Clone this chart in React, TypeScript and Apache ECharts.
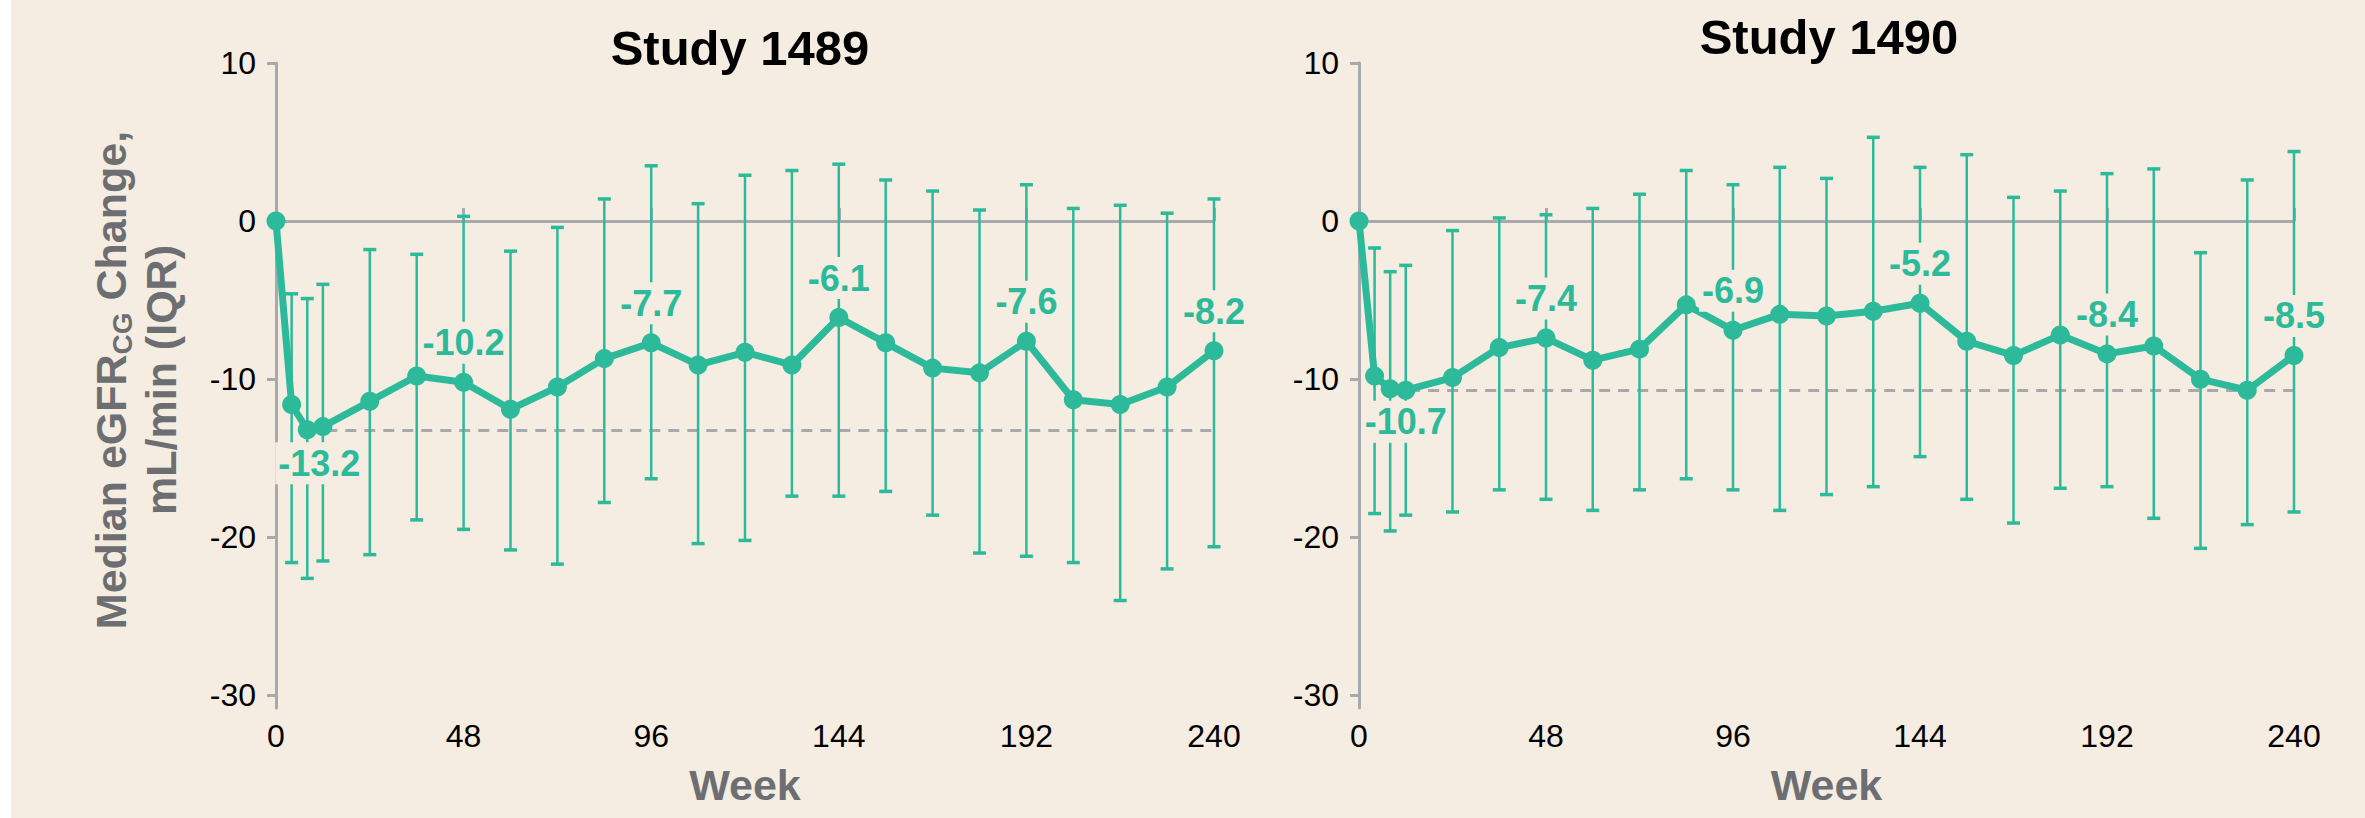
import React, { useEffect, useRef } from "react";
import * as echarts from "echarts";

// ---------- data ----------
const weeks = [0, 4, 8, 12, 24, 36, 48, 60, 72, 84, 96, 108, 120, 132, 144, 156, 168, 180, 192, 204, 216, 228, 240];

const s1489Median = [0, -11.6, -13.2, -13.0, -11.4, -9.8, -10.2, -11.9, -10.5, -8.7, -7.7, -9.1, -8.3, -9.1, -6.1, -7.7, -9.3, -9.6, -7.6, -11.3, -11.6, -10.5, -8.2];
const s1489Upper = [null, -4.6, -4.9, -4.0, -1.8, -2.1, 0.3, -1.9, -0.4, 1.4, 3.5, 1.1, 2.9, 3.2, 3.6, 2.6, 1.9, 0.7, 2.3, 0.8, 1.0, 0.5, 1.4];
const s1489Lower = [null, -21.6, -22.6, -21.5, -21.1, -18.9, -19.5, -20.8, -21.7, -17.8, -16.3, -20.4, -20.2, -17.4, -17.4, -17.1, -18.6, -21.0, -21.2, -21.6, -24.0, -22.0, -20.6];

const s1490Median = [0, -9.8, -10.6, -10.7, -9.9, -8.0, -7.4, -8.8, -8.1, -5.3, -6.9, -5.9, -6.0, -5.7, -5.2, -7.6, -8.5, -7.2, -8.4, -7.9, -10.0, -10.7, -8.5];
const s1490Upper = [null, -1.7, -3.2, -2.8, -0.6, 0.2, 0.4, 0.8, 1.7, 3.2, 2.3, 3.4, 2.7, 5.3, 3.4, 4.2, 1.5, 1.9, 3.0, 3.3, -2.0, 2.6, 4.4];
const s1490Lower = [null, -18.5, -19.6, -18.6, -18.4, -17.0, -17.6, -18.3, -17.0, -16.3, -17.0, -18.3, -17.3, -16.8, -14.9, -17.6, -19.1, -16.9, -16.8, -18.8, -20.7, -19.2, -18.4];

const xTicks = [0, 48, 96, 144, 192, 240];
const yTicks = [-30, -20, -10, 0, 10];

const titles = ["Study 1489", "Study 1490"];
const s1489LabelIdx = [6, 10, 14, 18, 22];
const s1490LabelIdx = [6, 10, 14, 18, 22];
const s1489MinIdx = 2;
const s1490MinIdx = 3;
const s1489Baseline = -13.2;
const s1490Baseline = -10.7;

// ---------- style ----------
const BG = "#f5ede1";
const TEAL = "#2cba9b";
const GRAY = "#a7a9ac";
const NAME_GRAY = "#6d6e71";
const FONT = '"Liberation Sans", Arial, Helvetica, sans-serif';

function lineData(median: number[], labelIdx: number[], minIdx: number, minOffset: number[], minDist: number) {
  return weeks.map((w, i) => {
    const item: any = { value: [w, median[i]] };
    if (labelIdx.includes(i)) {
      item.label = { show: true, position: "top", distance: 9 };
    } else if (i === minIdx) {
      item.label = { show: true, position: "bottom", distance: minDist, offset: minOffset };
    }
    return item;
  });
}

function errData(lower: (number | null)[], upper: (number | null)[]) {
  const out: number[][] = [];
  weeks.forEach((w, i) => {
    const lo = lower[i];
    const hi = upper[i];
    if (lo != null && hi != null) out.push([w, lo, hi]);
  });
  return out;
}

function renderErr(params: any, api: any) {
  const x = api.value(0);
  const lo = api.coord([x, api.value(1)]);
  const hi = api.coord([x, api.value(2)]);
  const cap = 6.5;
  return {
    type: "group",
    children: [
      { type: "line", shape: { x1: lo[0], y1: lo[1], x2: hi[0], y2: hi[1] }, style: { stroke: TEAL, lineWidth: 2.5 } },
      { type: "line", shape: { x1: hi[0] - cap, y1: hi[1], x2: hi[0] + cap, y2: hi[1] }, style: { stroke: TEAL, lineWidth: 3.5 } },
      { type: "line", shape: { x1: lo[0] - cap, y1: lo[1], x2: lo[0] + cap, y2: lo[1] }, style: { stroke: TEAL, lineWidth: 3.5 } },
    ],
  };
}

function makeX(gridIndex: number) {
  return {
    type: "value",
    gridIndex,
    min: 0,
    max: 240,
    interval: 48,
    axisLine: { show: false },
    axisTick: { show: true, inside: true, length: 13, lineStyle: { color: GRAY, width: 3 } },
    axisLabel: { color: "#000", fontSize: 32, fontFamily: FONT, margin: 12, customValues: xTicks },
    splitLine: { show: false },
    name: "Week",
    nameLocation: "middle",
    nameGap: 55,
    nameTextStyle: { color: NAME_GRAY, fontSize: 43, fontWeight: "bold", fontFamily: FONT },
  };
}

function makeY(gridIndex: number) {
  return {
    type: "value",
    gridIndex,
    min: -30.8,
    max: 10,
    axisLine: { show: true, onZero: false, lineStyle: { color: GRAY, width: 3 } },
    axisTick: { show: true, length: 9, lineStyle: { color: GRAY, width: 3 }, customValues: yTicks },
    axisLabel: { color: "#000", fontSize: 32, fontFamily: FONT, margin: 20, customValues: yTicks },
    splitLine: { show: false },
  };
}

function makeSeries(idx: number, median: number[], lower: any[], upper: any[], labelIdx: number[], minIdx: number, minOffset: number[], minDist: number, baseline: number) {
  return [
    {
      type: "custom",
      xAxisIndex: idx,
      yAxisIndex: idx,
      z: 2,
      silent: true,
      renderItem: renderErr,
      encode: { x: 0, y: [1, 2] },
      data: errData(lower, upper),
    },
    {
      type: "line",
      xAxisIndex: idx,
      yAxisIndex: idx,
      z: 3,
      symbol: "circle",
      symbolSize: 19,
      lineStyle: { color: TEAL, width: 7 },
      itemStyle: { color: TEAL },
      label: {
        show: false,
        color: TEAL,
        fontSize: 36,
        fontWeight: "bold",
        fontFamily: FONT,
        backgroundColor: BG,
        padding: [3, 3],
        formatter: (p: any) => Number(p.value[1]).toFixed(1),
      },
      data: lineData(median, labelIdx, minIdx, minOffset, minDist),
      markLine: {
        silent: true,
        z: 1,
        symbol: ["none", "none"],
        label: { show: false },
        lineStyle: { color: GRAY, width: 3, type: "solid" },
        data: [
          { yAxis: 0 },
          [
            { coord: [8, baseline], lineStyle: { color: GRAY, width: 3, type: [11, 8] } },
            { coord: [240, baseline] },
          ],
        ],
      },
    },
  ];
}

export default function App() {
  const ref = useRef<HTMLDivElement>(null);

  useEffect(() => {
    document.body.style.margin = "0";
    if (!ref.current) return;
    const chart = echarts.init(ref.current, null, { renderer: "svg" });
    chart.setOption({
      animation: false,
      backgroundColor: BG,
      grid: [
        { left: 276, top: 63, width: 938, height: 645 },
        { left: 1359, top: 63, width: 935, height: 645 },
      ],
      xAxis: [makeX(0), makeX(1)],
      yAxis: [makeY(0), makeY(1)],
      series: [
        ...makeSeries(0, s1489Median, s1489Lower, s1489Upper, s1489LabelIdx, s1489MinIdx, [12, 0], 3, s1489Baseline),
        ...makeSeries(1, s1490Median, s1490Lower, s1490Upper, s1490LabelIdx, s1490MinIdx, [0, 0], 1, s1490Baseline),
      ],
      graphic: [
        { type: "rect", left: 0, top: 0, shape: { width: 11, height: 818 }, style: { fill: "#ffffff" }, silent: true },
        {
          type: "text",
          x: 740,
          y: 48,
          style: { text: titles[0], fill: "#000", font: `bold 49px ${FONT}`, align: "center", verticalAlign: "middle" },
        },
        {
          type: "text",
          x: 1829,
          y: 37,
          style: { text: titles[1], fill: "#000", font: `bold 49px ${FONT}`, align: "center", verticalAlign: "middle" },
        },
        {
          type: "text",
          x: 136,
          y: 380,
          rotation: Math.PI / 2,
          style: {
            text: "{a|Median eGFR}{s|CG}{a| Change,}\n{a|mL/min (IQR)}",
            align: "center",
            verticalAlign: "middle",
            fill: NAME_GRAY,
            rich: {
              a: { fontSize: 43, fontWeight: "bold", fontFamily: FONT, fill: NAME_GRAY, lineHeight: 50 },
              s: { fontSize: 28, fontWeight: "bold", fontFamily: FONT, fill: NAME_GRAY, lineHeight: 28, verticalAlign: "bottom" },
            },
          },
        },
      ],
    });
    return () => chart.dispose();
  }, []);

  return <div ref={ref} style={{ width: 2365, height: 818 }} />;
}
